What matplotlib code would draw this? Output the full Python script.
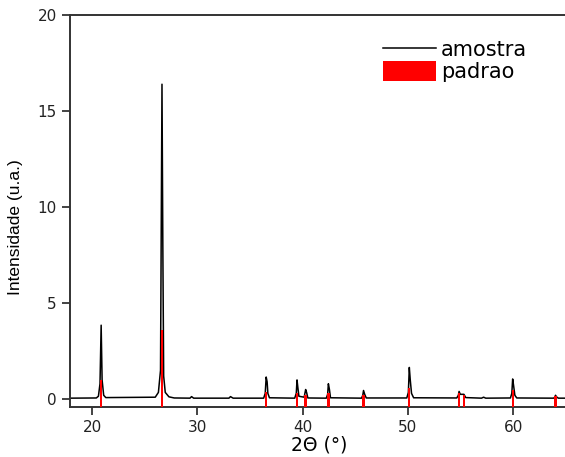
import numpy as np
import matplotlib
matplotlib.use('Agg')
import matplotlib.pyplot as plt

plt.rcParams['font.family'] = 'sans-serif'
plt.rcParams['font.sans-serif'] = ['DejaVu Sans']

two_theta = [17.9, 20.4, 20.6, 20.75, 20.86, 20.95, 21.1, 21.3,
             26.0, 26.3, 26.5, 26.64, 26.72, 26.8, 26.95, 27.3, 27.8,
             29.3, 29.45, 29.65, 33.0, 33.15, 33.4,
             36.3, 36.45, 36.54, 36.63, 36.7, 36.85,
             39.25, 39.4, 39.47, 39.55, 39.65, 40.15, 40.29, 40.38, 40.5,
             42.25, 42.38, 42.45, 42.55, 42.65,
             45.6, 45.72, 45.79, 45.9, 46.05,
             49.9, 50.05, 50.14, 50.23, 50.35, 50.55,
             54.65, 54.8, 54.87, 54.98, 55.33, 55.5,
             57.0, 57.2, 57.4,
             59.75, 59.88, 59.96, 60.05, 60.17, 60.35,
             63.85, 63.97, 64.03, 64.12, 64.3, 65.5]
intensity = [0.05, 0.06, 0.15, 0.8, 3.85, 1.0, 0.2, 0.08,
             0.1, 0.35, 1.5, 16.4, 8.0, 1.2, 0.35, 0.12, 0.06,
             0.05, 0.13, 0.05, 0.05, 0.13, 0.05,
             0.05, 0.3, 1.15, 0.9, 0.3, 0.07,
             0.05, 0.3, 1.0, 0.6, 0.15, 0.1, 0.5, 0.35, 0.06,
             0.05, 0.25, 0.8, 0.5, 0.07,
             0.05, 0.2, 0.45, 0.25, 0.06,
             0.06, 0.35, 1.65, 1.0, 0.3, 0.07,
             0.06, 0.2, 0.4, 0.25, 0.25, 0.08,
             0.05, 0.1, 0.05,
             0.06, 0.3, 1.05, 0.7, 0.2, 0.06,
             0.05, 0.1, 0.2, 0.12, 0.05, 0.05]

# reference pattern (padrao)
ref_pos = [20.86, 26.64, 36.54, 39.47, 40.29, 42.45, 45.79, 50.14,
           54.87, 55.33, 59.96, 64.03]
ref_height = [1.0, 3.6, 0.35, 0.3, 0.2, 0.3, 0.2, 0.6, 0.3, 0.2, 0.45, 0.15]

ymin = -0.42

fig = plt.figure(figsize=(5.65, 4.57), dpi=100)
ax = fig.add_axes([0.1239, 0.109, 0.882, 0.858])

ax.plot(two_theta, intensity, color='black', lw=1.1, label='amostra', zorder=2)
ax.bar(ref_pos, np.array(ref_height) - ymin, bottom=ymin, width=0.22,
       color='red', label='padrao', zorder=3)

ax.set_xlim(17.9, 65.25)
ax.set_ylim(ymin, 20)
ax.set_xticks([20, 30, 40, 50, 60])
ax.set_yticks([0, 5, 10, 15, 20])
ax.tick_params(direction='out', length=6, width=1.2, labelsize=11, colors='#222222')
for s in ax.spines.values():
    s.set_linewidth(1.4)
    s.set_color('#333333')

ax.set_xlabel('2\u0398 (\u00b0)', fontsize=13.5, labelpad=0)
ax.set_ylabel('Intensidade (u.a.)', fontsize=12.5, family='Liberation Sans')
ax.yaxis.set_label_coords(-0.095, 0.46)

ax.legend(loc='upper left', bbox_to_anchor=(373 / 565, 1 - 29 / 457),
          bbox_transform=fig.transFigure, frameon=False, borderpad=0,
          fontsize=15, handlelength=2.5, handleheight=1.05, handletextpad=0.25,
          labelspacing=0.05)

plt.savefig('out.png', dpi=100)
